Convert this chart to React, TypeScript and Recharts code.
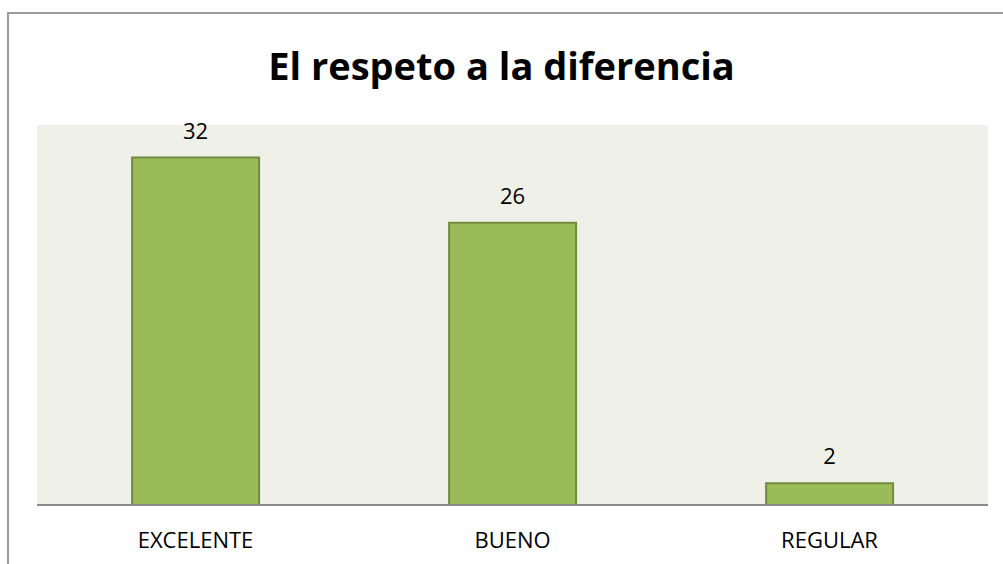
import React from "react";
import { BarChart, Bar, XAxis, YAxis, CartesianGrid, LabelList } from "recharts";

const categories = ["EXCELENTE", "BUENO", "REGULAR"];
const values = [32, 26, 2];
const title = "El respeto a la diferencia";

const data = categories.map((c, i) => ({ name: c, value: values[i] }));

export default function App() {
  return (
    <div style={{ position: "absolute", left: 0, top: 0, width: 1003, height: 564, overflow: "hidden", background: "#fff" }}>
      <div style={{ position: "absolute", left: 7, top: 12, width: 1100, height: 700, border: "2px solid #9a9a9a" }} />
      <div
        style={{
          position: "absolute",
          left: 0,
          top: 37,
          width: 1003,
          textAlign: "center",
          fontFamily: "'Open Sans', sans-serif",
          fontWeight: 700,
          fontSize: 38,
          color: "#000",
          lineHeight: "56px",
        }}
      >
        {title}
      </div>
      <div style={{ position: "absolute", left: 0, top: 0 }}>
        <BarChart
          width={1003}
          height={564}
          data={data}
          margin={{ top: 125, right: 15, bottom: 0, left: 37 }}
          barCategoryGap="30%"
        >
          <CartesianGrid fill="#EFF1E8" horizontal={false} vertical={false} stroke="none" />
          <YAxis hide domain={[0, 35]} />
          <XAxis
            dataKey="name"
            height={59}
            axisLine={{ stroke: "#8a8a8a", strokeWidth: 2 }}
            tickLine={false}
            tick={{ fill: "#000", fontSize: 22, fontFamily: "'Open Sans', sans-serif" }}
            tickMargin={21}
          />
          <Bar dataKey="value" fill="#9BBB59" stroke="#718C3E" strokeWidth={2} isAnimationActive={false}>
            <LabelList
              dataKey="value"
              position="top"
              offset={19}
              fill="#000"
              fontSize={22}
              fontFamily="'Open Sans', sans-serif"
            />
          </Bar>
        </BarChart>
      </div>
    </div>
  );
}
